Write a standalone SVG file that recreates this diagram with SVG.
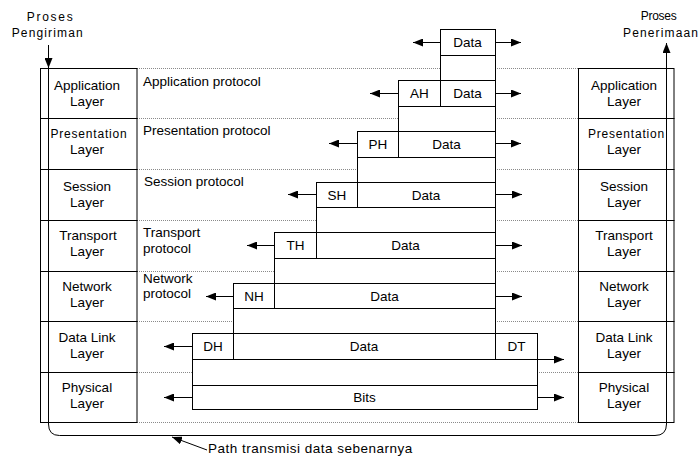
<svg xmlns="http://www.w3.org/2000/svg" width="700" height="461" viewBox="0 0 700 461">
<defs>
<marker id="ah" markerUnits="userSpaceOnUse" markerWidth="11" markerHeight="8" refX="10" refY="4" orient="auto">
<path d="M0,0 L10,4 L0,8 z" fill="#000"/>
</marker>
<style>
text{font-family:"Liberation Sans",Arial,sans-serif;font-size:13.5px;fill:#000}
.m{text-anchor:middle}
.cell{fill:#fff;stroke:#000;stroke-width:1}
.box{fill:#fff;stroke:#000;stroke-width:1}
.ln{stroke:#000;stroke-width:1;fill:none}
.dot{stroke:#8a8a8a;stroke-width:1;stroke-dasharray:1 1;fill:none}
.arr{stroke:#000;stroke-width:1;fill:none;marker-end:url(#ah)}
.sm{font-size:12px}
</style>
</defs>
<rect width="700" height="461" fill="#fff"/>

<g id="dotted-lines">
<path class="dot" d="M137,68.5H578M137,118.5H578M137,169.5H578M137,220.5H578M137,271.5H578M137,321.5H578M137,372.5H578M137,422.5H578"/>
</g>

<g id="sender-stack">
<g id="s-app"><rect class="cell" x="40.5" y="68.5" width="96.5" height="50"/><text class="m" x="87" y="90">Application</text><text class="m" x="87" y="106">Layer</text></g>
<g id="s-pres"><rect class="cell" x="40.5" y="118.5" width="96.5" height="51"/><text class="m sm" x="89" y="138" letter-spacing="0.8">Presentation</text><text class="m" x="87" y="154">Layer</text></g>
<g id="s-sess"><rect class="cell" x="40.5" y="169.5" width="96.5" height="51"/><text class="m" x="87" y="191">Session</text><text class="m" x="87" y="207">Layer</text></g>
<g id="s-trans"><rect class="cell" x="40.5" y="220.5" width="96.5" height="51"/><text class="m" x="88" y="240">Transport</text><text class="m" x="87" y="256">Layer</text></g>
<g id="s-net"><rect class="cell" x="40.5" y="271.5" width="96.5" height="50"/><text class="m" x="87" y="291">Network</text><text class="m" x="87" y="307">Layer</text></g>
<g id="s-dl"><rect class="cell" x="40.5" y="321.5" width="96.5" height="51"/><text class="m" x="87" y="342">Data Link</text><text class="m" x="87" y="358">Layer</text></g>
<g id="s-phy"><rect class="cell" x="40.5" y="372.5" width="96.5" height="50"/><text class="m" x="87" y="392">Physical</text><text class="m" x="87" y="408">Layer</text></g>
</g>

<g id="receiver-stack">
<g id="r-app"><rect class="cell" x="578.5" y="68.5" width="95.5" height="50"/><text class="m" x="624" y="90">Application</text><text class="m" x="624" y="106">Layer</text></g>
<g id="r-pres"><rect class="cell" x="578.5" y="118.5" width="95.5" height="51"/><text class="m sm" x="626.5" y="138" letter-spacing="0.8">Presentation</text><text class="m" x="624" y="154">Layer</text></g>
<g id="r-sess"><rect class="cell" x="578.5" y="169.5" width="95.5" height="51"/><text class="m" x="624" y="191">Session</text><text class="m" x="624" y="207">Layer</text></g>
<g id="r-trans"><rect class="cell" x="578.5" y="220.5" width="95.5" height="51"/><text class="m" x="624" y="240">Transport</text><text class="m" x="624" y="256">Layer</text></g>
<g id="r-net"><rect class="cell" x="578.5" y="271.5" width="95.5" height="50"/><text class="m" x="624" y="291">Network</text><text class="m" x="624" y="307">Layer</text></g>
<g id="r-dl"><rect class="cell" x="578.5" y="321.5" width="95.5" height="51"/><text class="m" x="624" y="342">Data Link</text><text class="m" x="624" y="358">Layer</text></g>
<g id="r-phy"><rect class="cell" x="578.5" y="372.5" width="95.5" height="50"/><text class="m" x="624" y="392">Physical</text><text class="m" x="624" y="408">Layer</text></g>
</g>

<g id="protocol-labels">
<text x="143" y="86">Application protocol</text>
<text x="143" y="135">Presentation protocol</text>
<text x="144" y="186">Session protocol</text>
<text x="143" y="237">Transport</text>
<text x="143" y="253">protocol</text>
<text x="143" y="283">Network</text>
<text x="143" y="298">protocol</text>
</g>

<g id="pkt-data">
<rect class="box" x="440.5" y="29.5" width="55" height="51"/>
<path class="ln" d="M440.5,55.5H495.5"/>
<text class="m" x="467.5" y="47">Data</text>
</g>
<g id="pkt-ah">
<rect class="box" x="398.5" y="80.5" width="97" height="51"/>
<path class="ln" d="M398.5,106.5H495.5M440.5,80.5V106.5"/>
<text class="m" x="419.5" y="98">AH</text>
<text class="m" x="467.5" y="98">Data</text>
</g>
<g id="pkt-ph">
<rect class="box" x="357.5" y="131.5" width="138" height="51"/>
<path class="ln" d="M357.5,157.5H495.5M398.5,131.5V157.5"/>
<text class="m" x="378" y="149">PH</text>
<text class="m" x="446.5" y="149">Data</text>
</g>
<g id="pkt-sh">
<rect class="box" x="316.5" y="182.5" width="179" height="50"/>
<path class="ln" d="M316.5,207.5H495.5M357.5,182.5V207.5"/>
<text class="m" x="337" y="200">SH</text>
<text class="m" x="426" y="200">Data</text>
</g>
<g id="pkt-th">
<rect class="box" x="274.5" y="232.5" width="221" height="51"/>
<path class="ln" d="M274.5,258.5H495.5M316.5,232.5V258.5"/>
<text class="m" x="295.5" y="250">TH</text>
<text class="m" x="405.5" y="250">Data</text>
</g>
<g id="pkt-nh">
<rect class="box" x="233.5" y="283.5" width="262" height="50"/>
<path class="ln" d="M233.5,308.5H495.5M274.5,283.5V308.5"/>
<text class="m" x="254" y="301">NH</text>
<text class="m" x="384.5" y="301">Data</text>
</g>
<g id="pkt-dh">
<rect class="box" x="192.5" y="333.5" width="345" height="52"/>
<path class="ln" d="M192.5,359.5H537.5M233.5,333.5V359.5M495.5,333.5V359.5"/>
<text class="m" x="213" y="351">DH</text>
<text class="m" x="364" y="351">Data</text>
<text class="m" x="516.5" y="351">DT</text>
</g>
<g id="pkt-bits">
<rect class="box" x="192.5" y="385.5" width="345" height="24"/>
<path class="ln" d="M192.5,385.5H537.5" stroke-width="1.6"/>
<text class="m" x="364.5" y="402">Bits</text>
</g>

<g id="connectors">
<path class="arr" d="M440.5,42.5H413"/>
<path class="arr" d="M495.5,42.5H521"/>
<path class="arr" d="M398.5,93.5H370"/>
<path class="arr" d="M495.5,93.5H521"/>
<path class="arr" d="M357.5,143.5H329"/>
<path class="arr" d="M495.5,143.5H521"/>
<path class="arr" d="M316.5,194.5H288"/>
<path class="arr" d="M495.5,194.5H522"/>
<path class="arr" d="M274.5,245.5H247"/>
<path class="arr" d="M495.5,245.5H522"/>
<path class="arr" d="M233.5,296.5H206"/>
<path class="arr" d="M495.5,296.5H522"/>
<path class="arr" d="M192.5,346.5H164"/>
<path class="arr" d="M537.5,359.5H564"/>
<path class="arr" d="M192.5,397.5H164"/>
<path class="arr" d="M537.5,397.5H564"/>
<path class="arr" d="M48.5,45V68"/>
<path class="arr" d="M48.5,68V424Q48.5,435.5 59.5,435.5H655Q666.5,435.5 666.5,424V43"/>
<path class="arr" d="M207,450L172,437"/>
</g>

<g id="top-labels">
<text class="sm" x="26.7" y="21" textLength="46">Proses</text>
<text class="sm" x="11.7" y="37" textLength="71">Pengiriman</text>
<text class="sm" x="640.7" y="20" textLength="36">Proses</text>
<text class="sm" x="623" y="37" textLength="75">Penerimaan</text>
</g>

<g id="path-label">
<text x="208" y="453" letter-spacing="0.5">Path transmisi data sebenarnya</text>
</g>
</svg>
